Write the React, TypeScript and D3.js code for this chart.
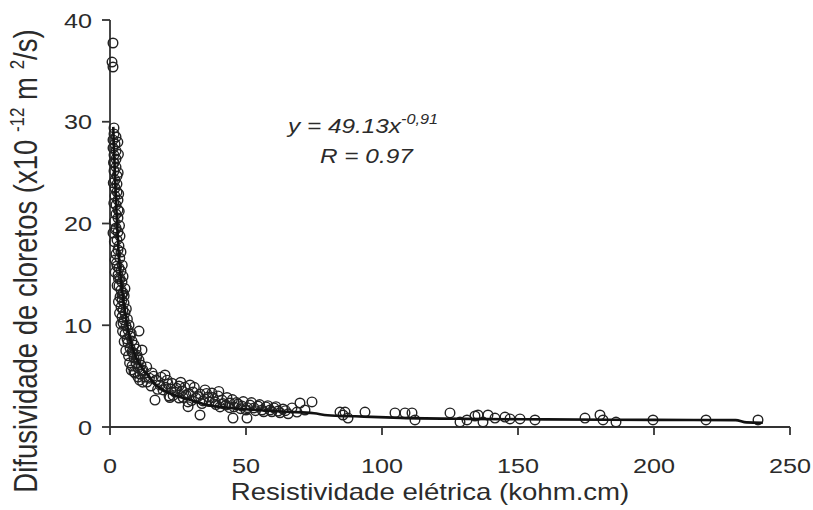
import React from "react";
import * as d3 from "d3";

// Scatter data: resistividade elétrica (kohm.cm) vs difusividade (x10^-12 m²/s)
const resistivity: number[] = [
  1.10, 0.74, 1.10, 1.47, 1.47, 2.21, 1.10, 1.84, 1.10, 2.21, 1.47, 2.21, 1.47, 2.21, 1.47, 2.57,
  1.84, 2.57, 1.84, 2.57, 1.84, 2.94, 2.21, 2.94, 2.21, 2.94, 2.21, 2.94, 1.10, 3.68, 2.57, 2.94,
  4.04, 1.84, 2.57, 3.31, 4.04, 2.94, 3.68, 4.41, 3.31, 4.04, 4.78, 3.68, 4.41, 5.15, 4.04, 4.78,
  5.51, 4.41, 5.15, 4.78, 5.88, 10.66, 6.62, 5.51, 7.35, 6.25, 8.09, 6.62, 8.82, 7.35, 9.56, 11.76,
  8.09, 9.93, 8.82, 10.66, 9.56, 11.40, 8.09, 10.29, 12.13, 8.82, 11.03, 10.29, 12.87,
  2.9, 3.1, 1.3, 3.0, 1.2, 3.2, 1.4, 3.4, 1.6, 3.5, 2.0, 1.6, 3.3, 2.2, 3.6, 2.4,
  4.5, 1.9, 3.1, 4.8, 2.6, 4.4, 5.5, 3.1, 5.2, 3.5, 6.0, 4.0, 6.4, 4.6, 7.0, 5.2,
  7.8, 5.8, 6.8, 8.5, 7.2, 9.9, 7.8, 9.2, 11.8, 13.5, 12.0, 10.9,
  15.44, 20.22, 13.60, 15.07, 16.91, 18.38, 19.49, 21.32, 22.43, 23.90, 21.69, 25.37, 26.47, 27.94,
  25.37, 29.41, 30.51, 31.62, 28.68, 33.09, 34.93, 34.19, 36.03, 37.50, 38.60, 39.71, 41.18, 42.65,
  40.44, 44.12, 45.59, 47.06, 48.53, 50.00, 51.47, 52.94, 54.41, 55.88, 57.35, 58.82, 60.29, 61.76,
  63.60, 33.09, 45.22, 50.37, 16.54,
  14.5, 16.0, 17.5, 18.8, 20.5, 21.0, 22.8, 23.2, 24.5, 26.0, 26.9, 27.5, 28.9, 30.0, 31.0, 32.4,
  33.8, 35.5, 36.5, 37.8, 39.0, 40.0, 41.5, 43.0, 44.0, 45.0, 46.5, 48.0, 49.0, 50.5, 52.0, 53.5,
  55.0, 56.5, 58.0, 59.5, 61.0, 62.5, 64.5, 65.5, 28.7, 22.0,
  66.91, 69.85, 68.75, 71.69, 74.26, 84.56, 86.40, 87.50, 85.66, 93.75, 104.78, 108.46, 111.03,
  112.13, 125.0, 128.68, 131.25, 134.19, 135.29, 137.13, 138.97, 141.54, 145.22, 147.06, 150.74,
  156.25, 174.63, 180.15, 181.25, 186.03, 199.63, 219.12, 238.24,
];
const diffusivity: number[] = [
  37.74, 35.87, 35.38, 29.39, 28.80, 28.50, 28.21, 27.81, 27.42, 27.13, 26.73, 26.34, 25.95, 25.55, 25.16, 24.67,
  24.28, 23.88, 23.49, 23.10, 22.70, 22.31, 21.82, 21.33, 20.93, 20.54, 19.56, 19.16, 19.07, 18.77, 18.38, 17.40,
  17.20, 16.41, 15.82, 15.63, 15.33, 14.94, 14.55, 14.25, 13.86, 13.46, 13.17, 12.78, 12.48, 12.19, 11.79, 11.50,
  11.20, 10.81, 10.52, 10.22, 9.93, 9.43, 9.53, 9.14, 8.94, 8.65, 8.45, 8.26, 8.06, 7.76, 7.67, 7.57,
  7.37, 7.08, 6.78, 6.58, 6.29, 6.09, 5.99, 5.80, 5.60, 5.41, 5.21, 4.91, 4.91,
  28.0, 26.8, 26.0, 25.0, 24.0, 22.9, 22.0, 21.2, 20.2, 19.8, 19.4, 18.2, 17.8, 17.0, 16.6, 16.1,
  15.9, 15.2, 14.6, 14.8, 13.9, 13.0, 13.6, 12.3, 12.9, 11.2, 11.6, 10.1, 10.6, 9.4, 10.0, 8.4,
  9.2, 7.5, 7.0, 7.3, 6.3, 6.9, 5.6, 5.3, 5.5, 5.9, 4.4, 4.6,
  5.31, 5.11, 4.42, 4.03, 4.62, 4.13, 3.64, 4.23, 3.73, 3.44, 3.05, 4.03, 3.54, 3.14,
  2.85, 4.13, 3.44, 2.85, 2.46, 3.24, 3.64, 2.56, 2.95, 3.34, 2.46, 3.05, 2.65, 2.16,
  1.97, 2.36, 1.97, 2.26, 2.06, 1.67, 2.16, 1.87, 2.06, 1.67, 1.97, 1.67, 1.87, 1.57,
  1.77, 1.18, 0.88, 0.88, 2.65,
  4.8, 5.0, 3.7, 4.9, 3.9, 4.6, 4.3, 3.1, 3.8, 4.4, 2.9, 3.9, 3.3, 2.6, 3.9, 3.0,
  2.3, 3.3, 2.5, 2.9, 2.2, 3.5, 2.3, 2.9, 1.9, 2.7, 2.4, 1.8, 2.5, 1.9, 2.4, 1.6,
  2.2, 1.5, 2.1, 1.5, 2.0, 1.4, 1.6, 1.3, 2.0, 2.9,
  1.87, 2.36, 1.47, 1.67, 2.46, 1.47, 1.47, 0.88, 1.18, 1.47, 1.38, 1.38, 1.38,
  0.69, 1.38, 0.49, 0.69, 1.08, 1.18, 0.49, 1.18, 0.88, 0.98, 0.79, 0.79,
  0.69, 0.88, 1.18, 0.69, 0.49, 0.69, 0.69, 0.69,
];

// Fitted line as drawn in the figure
const fitX: number[] = [1.2, 1.5, 2, 2.6, 3.2, 4, 5, 6.2, 7.5, 9, 11, 13.6, 17, 22, 29, 37, 45, 55, 65, 75, 80, 90, 107, 130, 160, 200, 230, 234, 240];
const fitY: number[] = [29.5, 27, 23.5, 20, 17, 14.5, 12.3, 10.2, 8.5, 7.2, 6.1, 5.2, 4.1, 3.3, 2.7, 2.1, 1.85, 1.65, 1.5, 1.35, 1.15, 1.05, 0.9, 0.8, 0.75, 0.7, 0.68, 0.45, 0.42];

const xTicks: number[] = [0, 50, 100, 150, 200, 250];
const yTicks: number[] = [0, 10, 20, 30, 40];

const FONT = "'Liberation Sans', Arial, sans-serif";
const SX = 1.2; // horizontal stretch of the source figure's lettering

export default function App() {
  const x = d3.scaleLinear().domain([0, 250]).range([110, 790]);
  const y = d3.scaleLinear().domain([0, 40]).range([427, 20]);
  const pts = resistivity.map((r, i) => [r, diffusivity[i]] as [number, number]);
  const fit = fitX.map((v, i) => [v, fitY[i]] as [number, number]);
  const line = d3
    .line<[number, number]>()
    .x((d) => x(d[0]))
    .y((d) => y(d[1]))
    .curve(d3.curveMonotoneX);

  const axisColor = "#333";
  const textColor = "#2b2b2b";

  return (
    <svg
      width={813}
      height={510}
      style={{ position: "absolute", left: 0, top: 0, background: "#fff" }}
      fontFamily={FONT}
    >
      <rect width={813} height={510} fill="#fff" />
      {/* axes */}
      <line x1={x(0)} x2={x(250)} y1={y(0)} y2={y(0)} stroke={axisColor} strokeWidth={1.8} />
      <line x1={x(0)} x2={x(0)} y1={y(0)} y2={y(40)} stroke={axisColor} strokeWidth={1.8} />
      {xTicks.map((t) => (
        <g key={"x" + t}>
          <line x1={x(t)} x2={x(t)} y1={y(0)} y2={y(0) + 8} stroke={axisColor} strokeWidth={1.8} />
          <text
            transform={`translate(${x(t)},473) scale(${SX},1)`}
            textAnchor="middle"
            fontSize={21}
            fill={textColor}
          >
            {t}
          </text>
        </g>
      ))}
      {yTicks.map((t) => (
        <g key={"y" + t}>
          <line x1={x(0) - 8} x2={x(0)} y1={y(t)} y2={y(t)} stroke={axisColor} strokeWidth={1.8} />
          <text
            transform={`translate(92,${y(t) + 7.5}) scale(${SX},1)`}
            textAnchor="end"
            fontSize={21}
            fill={textColor}
          >
            {t}
          </text>
        </g>
      ))}
      {/* scatter */}
      {pts.map((d, i) => (
        <circle key={i} cx={x(d[0])} cy={y(d[1])} r={4.8} fill="none" stroke="#222" strokeWidth={1.4} />
      ))}
      {/* fitted curve */}
      <path d={line(fit) || ""} fill="none" stroke="#111" strokeWidth={2.6} />
      {/* equation */}
      <text transform={`translate(288,133) scale(1.16,1)`} fontSize={21} fontStyle="italic" fill={textColor}>
        y = 49.13x
        <tspan dy={-9} fontSize={14}>-0,91</tspan>
      </text>
      <text transform={`translate(320,163) scale(1.16,1)`} fontSize={21} fontStyle="italic" fill={textColor}>
        R = 0.97
      </text>
      {/* axis titles */}
      <text
        transform={`translate(430,500) scale(${SX},1)`}
        textAnchor="middle"
        fontSize={23}
        fill={textColor}
      >
        Resistividade elétrica (kohm.cm)
      </text>
      <text
        transform={`translate(37,261) scale(${SX},1) rotate(-90)`}
        textAnchor="middle"
        fontSize={27.5}
        fill={textColor}
      >
        Difusividade de cloretos (x10 <tspan dy={-11} fontSize={17}>-12</tspan>
        <tspan dy={11}> m </tspan>
        <tspan dy={-11} fontSize={17}>2</tspan>
        <tspan dy={11}>/s)</tspan>
      </text>
    </svg>
  );
}
